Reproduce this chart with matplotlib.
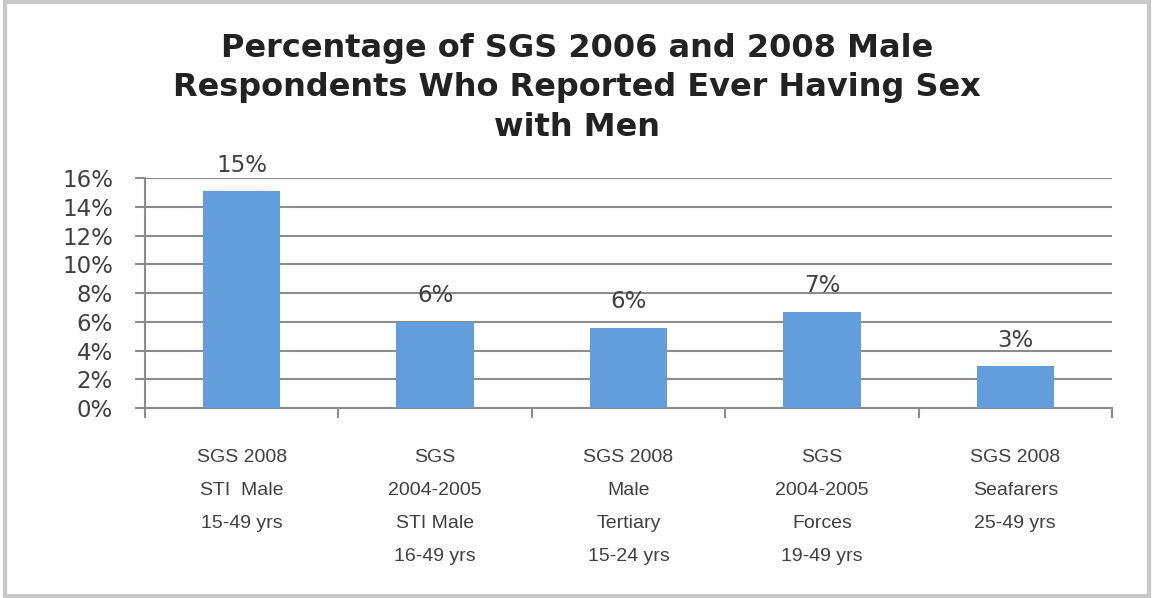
import numpy as np
import matplotlib.pyplot as plt
from matplotlib.patches import Rectangle

plt.rcParams['font.family'] = ['DejaVu Sans']

categories = [
    'SGS 2008\nSTI  Male\n15-49 yrs',
    'SGS\n2004-2005\nSTI Male\n16-49 yrs',
    'SGS 2008\nMale\nTertiary\n15-24 yrs',
    'SGS\n2004-2005\nForces\n19-49 yrs',
    'SGS 2008\nSeafarers\n25-49 yrs',
]
values = [15.1, 6.0, 5.6, 6.7, 2.9]
labels = ['15%', '6%', '6%', '7%', '3%']
yticks = [0, 2, 4, 6, 8, 10, 12, 14, 16]

title_lines = ['Percentage of SGS 2006 and 2008 Male',
               'Respondents Who Reported Ever Having Sex',
               'with Men']

fig = plt.figure(figsize=(11.54, 5.98), dpi=100)
fig.patches.append(Rectangle((0.004, 0.004), 0.992, 0.992, transform=fig.transFigure,
                             fill=False, edgecolor='#c8c8c8', lw=3))

ax = fig.add_axes([0.1257, 0.3177, 0.8379, 0.3846])
x = np.arange(len(values))
ax.bar(x, values, width=0.4, color='#619EDB', zorder=3)

for xi, v, s in zip(x, values, labels):
    ax.annotate(s, (xi, v), xytext=(0, 14), textcoords='offset points',
                ha='center', va='baseline', fontsize=16.5, color='#404040')

ax.set_xlim(-0.5, len(values) - 0.5)
ax.set_ylim(0, 16)
ax.set_yticks(yticks)
ax.set_yticklabels([f'{t}%' for t in yticks], fontsize=16.5, color='#404040')
ax.yaxis.grid(True, color='#8c8c8c', lw=1.5, zorder=0)

ax.set_xticks(x)
ax.set_xticklabels(categories, fontsize=14, color='#404040', linespacing=2.22, va='top',
                   family=['Liberation Sans', 'DejaVu Sans'])
ax.set_xticks(np.arange(-0.5, len(values)), minor=True)
ax.tick_params(axis='x', which='major', length=0, pad=29.5)
ax.tick_params(axis='x', which='minor', length=7, color='#8c8c8c', width=1.5)
ax.tick_params(axis='y', length=7, color='#8c8c8c', width=1.5, pad=16)

for side in ['top', 'right']:
    ax.spines[side].set_visible(False)
for side in ['left', 'bottom']:
    ax.spines[side].set_color('#8c8c8c')
    ax.spines[side].set_linewidth(1.5)

for i, line in enumerate(title_lines):
    fig.text(0.5, 1 - (57 + 39.5 * i) / 598, line, ha='center', va='baseline',
             fontsize=23, fontweight='bold', color='#222222')

plt.savefig('out.png', dpi=100)
